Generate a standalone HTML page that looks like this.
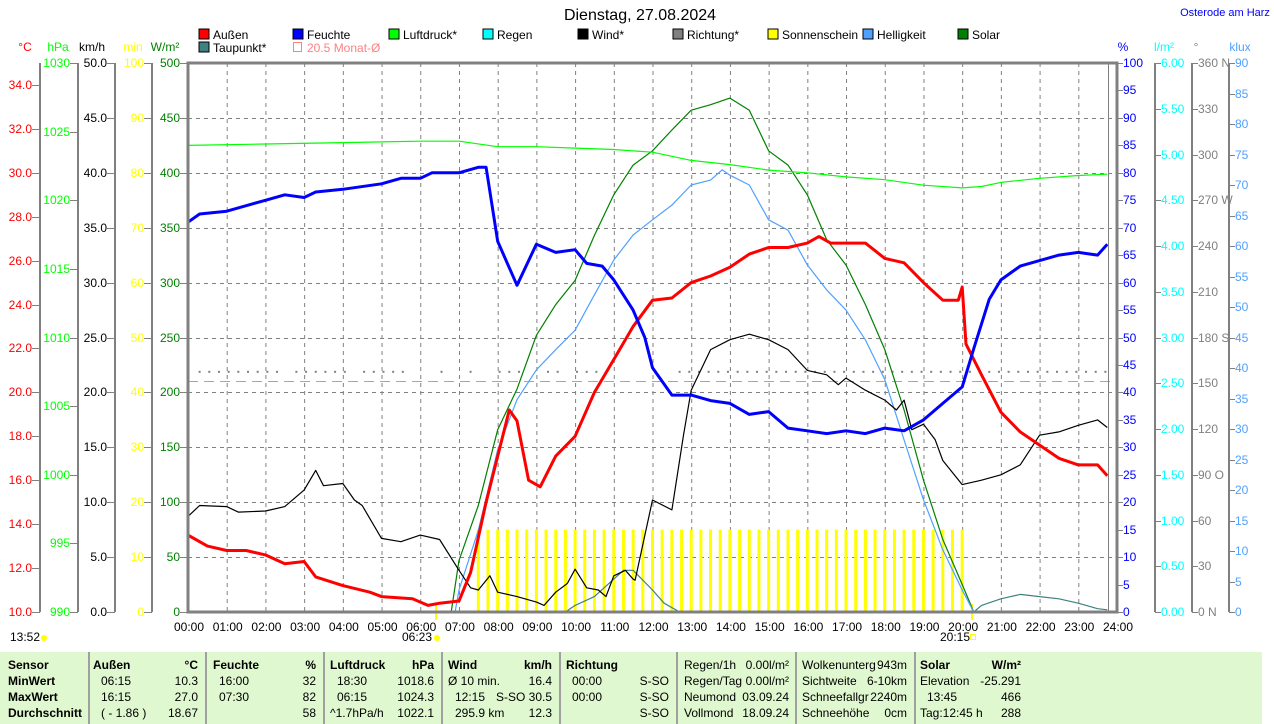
<!DOCTYPE html>
<html><head><meta charset="utf-8"><style>
html,body{margin:0;padding:0;background:#fff;}
body{width:1274px;height:724px;overflow:hidden;position:relative;font-family:"Liberation Sans",sans-serif;}
svg{position:absolute;left:0;top:0;}
#table{position:absolute;left:0;top:652px;width:1262px;height:72px;background:#e0f8d0;font-size:12px;color:#000;}
.col{position:absolute;top:0;height:72px;border-left:2px solid #a0a0a0;}
.cell{position:absolute;white-space:nowrap;}
.b{font-weight:bold;}
</style></head><body>
<svg id="chart" width="1274" height="652" font-family="Liberation Sans, sans-serif" font-size="12"></svg>
<div id="table">
 <div class="col" style="left:88px"></div>
 <div class="col" style="left:205px"></div>
 <div class="col" style="left:323px"></div>
 <div class="col" style="left:441px"></div>
 <div class="col" style="left:559px"></div>
 <div class="col" style="left:676px"></div>
 <div class="col" style="left:795px"></div>
 <div class="col" style="left:914px"></div>
 <div id="cells"></div>
</div>
<script>
// ---- data ----
const tempH=[0,0.5,1,1.5,2,2.5,3,3.3,4,4.7,5,5.8,6.2,6.5,7,7.3,7.7,8.3,8.5,8.8,9.1,9.5,10,10.5,11,11.5,12,12.5,13,13.5,14,14.5,15,15.5,16,16.3,16.6,17,17.5,18,18.5,19,19.5,19.9,20,20.1,20.5,21,21.5,22,22.5,23,23.5,23.75];
const tempV=[13.5,13.0,12.8,12.8,12.6,12.2,12.3,11.6,11.2,10.9,10.7,10.6,10.3,10.4,10.5,11.8,15.0,19.2,18.7,16.0,15.7,17.1,18.0,20.0,21.5,23.0,24.2,24.3,25.0,25.3,25.7,26.3,26.6,26.6,26.8,27.1,26.8,26.8,26.8,26.1,25.9,25.0,24.2,24.2,24.8,22.2,20.8,19.1,18.2,17.6,17.0,16.7,16.7,16.2];
const humH=[0,0.3,1,1.5,2,2.5,3,3.3,4,5,5.5,6,6.3,7,7.5,7.7,8,8.5,9,9.5,10,10.3,10.7,11,11.5,11.8,12,12.5,13,13.5,14,14.5,15,15.5,16,16.5,17,17.5,18,18.5,19,19.5,20,20.3,20.7,21,21.5,22,22.5,23,23.5,23.75];
const humV=[71,72.5,73,74,75,76,75.5,76.5,77,78,79,79,80,80,81,81,67.5,59.5,67,65.5,66,63.5,63,60.5,55,50,44.5,39.5,39.5,38.5,38,36,36.5,33.5,33,32.5,33,32.5,33.5,33,35,38,41,48,57,60.5,63,64,65,65.5,65,67];
const presH=[0,2,4,6,7,8,9,10,11,12,13,14,15,16,17,18,19,20,20.5,21,22,23,23.75];
const presV=[1024.0,1024.1,1024.2,1024.3,1024.3,1023.9,1023.9,1023.8,1023.7,1023.5,1022.9,1022.6,1022.2,1022.0,1021.7,1021.5,1021.1,1020.9,1021.0,1021.3,1021.6,1021.8,1021.9];
const dewH=[9.75,10,10.5,11,11.25,11.5,12,12.3,12.7,20.3,20.5,21,21.5,22,22.5,23,23.5,23.75];
const dewV=[10.0,10.3,10.7,11.5,11.9,11.9,11.0,10.4,10.0,10.0,10.3,10.6,10.8,10.7,10.6,10.4,10.15,10.1];
const windH=[0,0.3,1,1.3,2,2.5,3,3.3,3.5,4,4.3,4.5,5,5.5,6,6.5,7,7.3,7.5,7.8,8,8.5,9,9.2,9.5,9.8,10,10.3,10.6,10.8,11,11.3,11.5,11.55,12,12.5,12.8,13,13.5,14,14.5,15,15.5,16,16.5,16.8,17,17.5,18,18.3,18.5,18.7,19,19.3,19.5,20,20.5,21,21.5,22,22.5,23,23.5,23.75];
const windV=[8.7,9.7,9.6,9.1,9.2,9.6,11.1,12.9,11.5,11.7,10.2,9.7,6.7,6.4,7.0,6.6,3.8,2.2,2.0,3.3,1.8,1.4,0.9,0.6,1.8,2.6,3.9,2.2,2.0,1.4,3.3,3.8,3.0,2.9,10.2,9.3,16.1,20.2,23.9,24.8,25.3,24.8,23.9,22.0,21.6,20.7,21.3,20.2,19.3,18.4,19.3,16.6,17.1,15.7,13.8,11.6,12.0,12.5,13.4,16.1,16.4,17.0,17.5,16.8];
const solH=[0,6.8,7,7.5,8,8.5,9,9.5,10,10.5,11,11.5,12,12.5,13,13.5,14,14.5,15,15.5,16,16.5,17,17.5,18,18.5,19,19.5,20,20.3];
const solV=[0,0,47,97,166,203,252,280,302,343,380,407,420,439,457,462,468,457,420,407,380,339,316,280,239,184,120,66,25,0];
const luxH=[0,6.9,7,7.5,8,8.5,9,9.5,10,10.5,11,11.5,12,12.5,13,13.5,13.8,14,14.5,15,15.5,16,16.5,17,17.5,18,18.5,19,19.5,20,20.3];
const luxV=[0,0,3.6,13.4,26.6,34.8,39.7,43,46.2,52,57.7,61.8,64.3,66.7,70,70.8,72.5,71.6,70,64.3,62.6,56.9,52.8,49.5,44.6,38.1,28.2,18.4,10.2,3.6,0];
const sunStart=7.5, sunEnd=20.0, sunStep=0.25;
const sunMin=[15];
const dirH=[0.3,0.55,0.8,1.05,1.3,1.55,1.8,2.05,2.3,2.8,3.05,3.3,3.55,3.8,4.05,4.55,4.8,5.05,5.3,5.55,6.55,7.3,8.05,8.3,8.55,9.3,9.55,10.05,10.3,10.55,12.7];
const dirV=157.5;
const monthAvg=20.5;
const tickC=[10,12,14,16,18,20,22,24,26,28,30,32,34];
const tickP=[990,995,1000,1005,1010,1015,1020,1025,1030];
const tickK=[0,5,10,15,20,25,30,35,40,45,50];
const tickM=[0,10,20,30,40,50,60,70,80,90,100];
const tickW=[0,50,100,150,200,250,300,350,400,450,500];
const tickPct=[0,5,10,15,20,25,30,35,40,45,50,55,60,65,70,75,80,85,90,95,100];
const tickL=[0,0.5,1,1.5,2,2.5,3,3.5,4,4.5,5,5.5,6];
const tickDeg=[0,30,60,90,120,150,180,210,240,270,300,330,360];
const degNames={0:'N',90:'O',180:'S',270:'W',360:'N'};
const tickLux=[0,5,10,15,20,25,30,35,40,45,50,55,60,65,70,75,80,85,90];

// ---- scales ----
const X0=188,X1=1117,Y0=612,Y1=63;
const x=h=>X0+h*(X1-X0)/24;
const lin=(lo,hi)=>v=>Y0-(v-lo)*(Y0-Y1)/(hi-lo);
const yC=lin(10,35),yP=lin(990,1030),yK=lin(0,50),yM=lin(0,100),yW=lin(0,500),yPct=lin(0,100),yL=lin(0,6),yDeg=lin(0,360),yLux=lin(0,90);

const S=document.getElementById('chart');
const NS='http://www.w3.org/2000/svg';
function mk(tag,attrs,parent){const e=document.createElementNS(NS,tag);for(const k in attrs)e.setAttribute(k,attrs[k]);(parent||S).appendChild(e);return e;}
function txt(s,xx,yy,fill,anchor,size,parent){const t=mk('text',{x:xx,y:yy,fill:fill,'text-anchor':anchor||'start','font-size':size||12},parent);t.textContent=s;return t;}

let t=txt('Dienstag, 27.08.2024',640,20,'#000','middle',16);


t=txt('Osterode am Harz',1225,16,'#0000ff','middle',11);



const legItems=[['Außen','#ff0000',199,38],['Feuchte','#0000ff',293,38],['Luftdruck*','#00ff00',389,38],['Regen','#00ffff',483,38],['Wind*','#000000',578,38],['Richtung*','#808080',673,38],['Sonnenschein','#ffff00',768,38],['Helligkeit','#50a0ff',863,38],['Solar','#008000',958,38],['Taupunkt*','#408080',199,51]];
legItems.forEach(it=>{
 const g=mk('g',{});
 
 
 mk('rect',{x:it[2],y:it[3]-9,width:10,height:10,fill:it[1],stroke:'#000','stroke-width':1},g);
 txt(it[0],it[2]+14,it[3]+1,'#000','start',12,g);
});
const gm=mk('g',{});


mk('rect',{x:293.5,y:42.5,width:8,height:9,fill:'none',stroke:'#ff8080'},gm);
txt('20.5 Monat-Ø',307,52,'#ff8080','start',12,gm);

const grid=mk('g',{stroke:'#808080','stroke-width':1,'stroke-dasharray':'4,4'});


for(let h=1;h<24;h++)mk('line',{x1:x(h)+0.5,y1:Y1,x2:x(h)+0.5,y2:Y0},grid);
tickW.slice(1,-1).forEach(v=>mk('line',{x1:X0,y1:Math.round(yW(v))+0.5,x2:X1,y2:Math.round(yW(v))+0.5},grid));

function axis(name,lineX,ticks,scale,fmt,color,side,unit,unitX){
 const g=mk('g',{});
 
 
 if(lineX!==X0&&lineX!==X1)mk('line',{x1:lineX,y1:Y1,x2:lineX,y2:Y0,stroke:'#808080','stroke-width':2},g);
 ticks.forEach(v=>{const yy=Math.round(scale(v));
  if(side==='l'){mk('line',{x1:lineX-8,y1:yy+0.5,x2:lineX,y2:yy+0.5,stroke:'#808080'},g);txt(fmt(v),lineX-8,yy+4,color,'end',12,g);}
  else{mk('line',{x1:lineX,y1:yy+0.5,x2:lineX+6,y2:yy+0.5,stroke:'#808080'},g);txt(fmt(v),lineX+6,yy+4,color,'start',12,g);}
 });
 txt(unit,unitX,51,color,'middle',12,g);
}
axis('celsius-axis',40,tickC,yC,v=>v.toFixed(1),'#ff0000','l','°C',25);
axis('pressure-axis',78,tickP,yP,v=>String(v),'#00ff00','l','hPa',58);
axis('wind-speed-axis',115,tickK,yK,v=>v.toFixed(1),'#000','l','km/h',92);
axis('sunshine-minutes-axis',152,tickM,yM,v=>String(v),'#ffff00','l','min',133);
axis('solar-axis',X0,tickW,yW,v=>String(v),'#008000','l','W/m²',165);
axis('humidity-axis',X1,tickPct,yPct,v=>String(v),'#0000ff','r','%',1123);
axis('rain-axis',1155,tickL,yL,v=>v.toFixed(2),'#00ffff','r','l/m²',1164);
axis('direction-axis',1192,tickDeg,yDeg,v=>v+(degNames[v]?' '+degNames[v]:''),'#808080','r','°',1196);
axis('lux-axis',1229,tickLux,yLux,v=>String(v),'#50a0ff','r','klux',1240);

const xl=mk('g',{});


for(let h=0;h<=24;h++)txt(String(h).padStart(2,'0')+':00',x(h)+1,631,'#000','middle',12,xl);
txt('13:52',10,641,'#000','start',12,xl);mk('circle',{cx:44,cy:638,r:3,fill:'#ffff00'},xl);
txt('06:23',402,641,'#000','start',12,xl);mk('circle',{cx:437,cy:638,r:3,fill:'#ffff00'},xl);
txt('20:15',940,641,'#000','start',12,xl);mk('rect',{x:970.5,y:634.5,width:5,height:5,fill:'none',stroke:'#ffff00'},xl);
mk('line',{x1:436,y1:604,x2:436,y2:620,stroke:'#ffff00','stroke-width':2},xl);
mk('line',{x1:972,y1:604,x2:972,y2:620,stroke:'#ffff00','stroke-width':2},xl);

const defs=mk('defs',{});
const cp=mk('clipPath',{id:'pc'},defs);
mk('rect',{x:X0,y:Y1,width:X1-X0,height:Y0-Y1},cp);
const plot=mk('g',{'clip-path':'url(#pc)'});

for(let h=sunStart;h<=sunEnd+1e-9;h+=sunStep){
 const r=mk('rect',{x:x(h)-1.5,y:yM(sunMin[0]),width:3,height:Y0-yM(sunMin[0]),fill:'#ffff00'},plot);
 
 
}
let ma=mk('line',{x1:X0,y1:Math.round(yC(monthAvg))+0.5,x2:X1,y2:Math.round(yC(monthAvg))+0.5,stroke:'#ff8080','stroke-dasharray':'10,6'},plot);


const dirs=[];dirH.forEach(h=>dirs.push(h));
for(let h=12.95;h<=23.75;h+=0.25)dirs.push(h);
dirs.forEach(h=>{const d=mk('rect',{x:x(h)-1,y:yDeg(dirV)-1,width:2,height:2,fill:'#808080'},plot);
 
 });

function series(name,H,V,sc,color,w){
 const p=mk('polyline',{points:H.map((h,i)=>x(h).toFixed(1)+','+sc(V[i]).toFixed(1)).join(' '),fill:'none',stroke:color,'stroke-width':w,'stroke-linejoin':'round'},plot);
 
 
}
series('dewpoint-line',dewH,dewV,yC,'#408080',1.2);
series('solar-line',solH,solV,yW,'#008000',1.2);
series('brightness-line',luxH,luxV,yLux,'#50a0ff',1.2);
series('wind-line',windH,windV,yK,'#000000',1.2);
series('pressure-line',presH,presV,yP,'#00ff00',1.2);
series('temperature-line',tempH,tempV,yC,'#ff0000',3);
series('humidity-line',humH,humV,yPct,'#0000ff',3);

let fr=mk('rect',{x:X0,y:Y1,width:X1-X0,height:Y0-Y1,fill:'none',stroke:'#808080','stroke-width':3});


mk('line',{x1:1108.5,y1:Y1,x2:1108.5,y2:Y0,stroke:'#808080','stroke-width':1});

const cells=[
 ['Sensor',8,1,1],['MinWert',8,2,1],['MaxWert',8,3,1],['Durchschnitt',8,4,1],
 ['Außen',93,1,1],['°C',198,1,1,'r'],['06:15',101,2],['10.3',198,2,0,'r'],['16:15',101,3],['27.0',198,3,0,'r'],['( - 1.86 )',101,4],['18.67',198,4,0,'r'],
 ['Feuchte',213,1,1],['%',316,1,1,'r'],['16:00',219,2],['32',316,2,0,'r'],['07:30',219,3],['82',316,3,0,'r'],['58',316,4,0,'r'],
 ['Luftdruck',330,1,1],['hPa',434,1,1,'r'],['18:30',337,2],['1018.6',434,2,0,'r'],['06:15',337,3],['1024.3',434,3,0,'r'],['^1.7hPa/h',330,4],['1022.1',434,4,0,'r'],
 ['Wind',448,1,1],['km/h',552,1,1,'r'],['Ø 10 min.',448,2],['16.4',552,2,0,'r'],['12:15',455,3],['S-SO 30.5',552,3,0,'r'],['295.9 km',455,4],['12.3',552,4,0,'r'],
 ['Richtung',566,1,1],['00:00',572,2],['S-SO',669,2,0,'r'],['00:00',572,3],['S-SO',669,3,0,'r'],['S-SO',669,4,0,'r'],
 ['Regen/1h',684,1],['0.00l/m²',789,1,0,'r'],['Regen/Tag',684,2],['0.00l/m²',789,2,0,'r'],['Neumond',684,3],['03.09.24',789,3,0,'r'],['Vollmond',684,4],['18.09.24',789,4,0,'r'],
 ['Wolkenunterg',802,1],['943m',907,1,0,'r'],['Sichtweite',802,2],['6-10km',907,2,0,'r'],['Schneefallgr',802,3],['2240m',907,3,0,'r'],['Schneehöhe',802,4],['0cm',907,4,0,'r'],
 ['Solar',920,1,1],['W/m²',1021,1,1,'r'],['Elevation',920,2],['-25.291',1021,2,0,'r'],['13:45',927,3],['466',1021,3,0,'r'],['Tag:12:45 h',920,4],['288',1021,4,0,'r']
];
const C=document.getElementById('cells');
cells.forEach(c=>{const d=document.createElement('div');d.className='cell'+(c[3]?' b':'');d.textContent=c[0];
 d.style.top=(6+(c[2]-1)*16)+'px';
 if(c[4]==='r'){d.style.right=(1262-c[1])+'px';}else d.style.left=c[1]+'px';
 
 
 C.appendChild(d);});
</script>
</body></html>
